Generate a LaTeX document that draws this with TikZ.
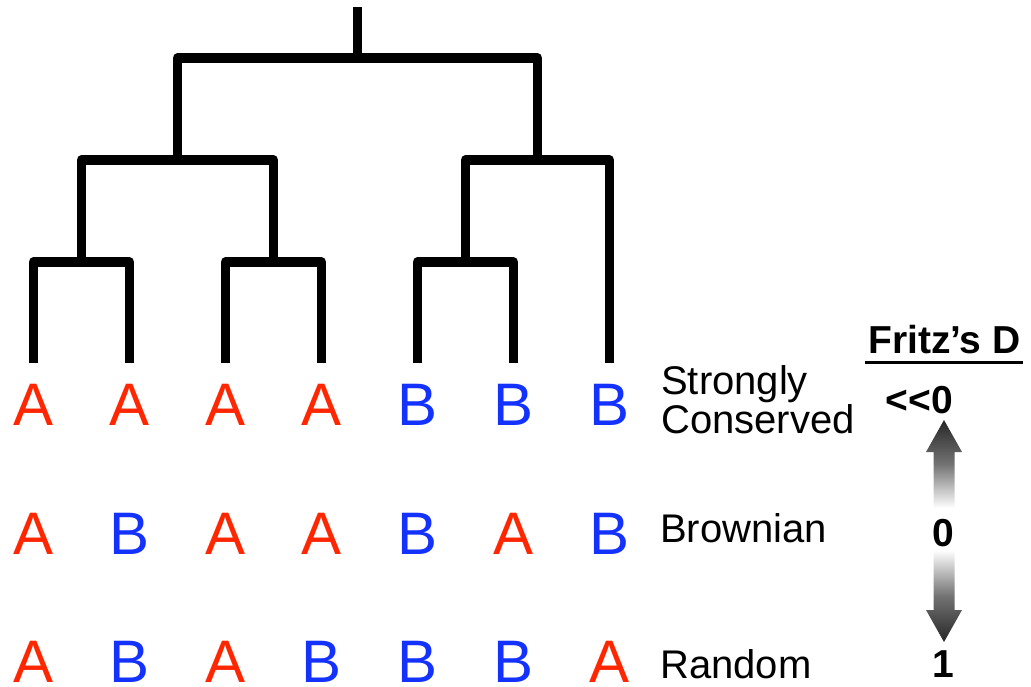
\documentclass[tikz,border=0pt]{standalone}
\usepackage{fontspec}
\setmainfont{Liberation Sans}
\usetikzlibrary{calc}
\definecolor{stateA}{RGB}{255,38,0}
\definecolor{stateB}{RGB}{20,50,255}
\begin{document}
\begin{tikzpicture}[x=1pt,y=-1pt,
  branch/.style={line width=9.5pt, line join=round, line cap=butt},
  taxon/.style={font=\fontsize{60}{60}\selectfont, anchor=base, inner sep=0pt, text depth=0pt},
  model/.style={font=\fontsize{40}{40}\selectfont, anchor=base west, inner sep=0pt},
  dval/.style={font=\fontsize{39}{39}\selectfont\bfseries, inner sep=0pt},
  grad/.style={top color=#1, bottom color=white, middle color=black!55}]
\useasboundingbox (0,0) rectangle (1031,687);

% leaves and internal junctions of the tree
\foreach \i/\x in {1/33.5,2/129.5,3/225.5,4/321.5,5/417.5,6/513.5,7/609.5}
  \coordinate (L\i) at (\x,363);
\coordinate (J12)   at (81.5,262);
\coordinate (J34)   at (273.5,262);
\coordinate (J56)   at (465.5,262);
\coordinate (J1234) at (177.5,160);
\coordinate (J567)  at (537.5,160);
\coordinate (R)     at (357.5,58);
\coordinate (Rtop)  at (357.5,7);

% branches
\draw[branch] (L1) |- (J12) -| (L2);
\draw[branch] (L3) |- (J34) -| (L4);
\draw[branch] (L5) |- (J56) -| (L6);
\draw[branch] (J12) |- (J1234) -| (J34);
\draw[branch] (J56) |- (J567) -| (L7);
\draw[branch] (J1234) |- (R) -| (J567);
\draw[branch] (R) -- (Rtop);

% character states at the tips, one row per model
\foreach \row/\y/\states in {s/425/{A,A,A,A,B,B,B}, b/554/{A,B,A,A,B,A,B}, r/682/{A,B,A,B,B,B,A}}{
  \foreach \s [count=\i] in \states {
    \node[taxon, text=state\s] (\row\i) at (L\i |- 0,\y) {\s};
  }
}

% model names
\node[model] (strong) at (661,394) {Strongly};
\node[model] (cons)   at (661,433) {Conserved};
\node[model] (brown)  at (660,542) {Brownian};
\node[model] (rand)   at (660,678) {Random};

% Fritz's D scale
\node[dval, anchor=base west] (fd) at (868,353) {Fritz’s D};
\draw[line width=3pt] ($(fd.base west)+(-3,9)$) -- ($(fd.base east)+(2,9)$);
\node[dval, anchor=base east] (dlow) at (953,413) {{<}{<}0};
\node[dval, anchor=base] (dzero) at (943,546) {0};
\node[dval, anchor=base] (done)  at (943,677) {1};

% shaded double arrow between the values
\shade[grad=black!85] (944,420) -- (962,452) -- (954.5,452) -- (954.5,508)
  -- (933.5,508) -- (933.5,452) -- (926,452) -- cycle;
\shade[top color=white, bottom color=black!85, middle color=black!55]
  (944,642) -- (962,610) -- (954.5,610) -- (954.5,550)
  -- (933.5,550) -- (933.5,610) -- (926,610) -- cycle;
\end{tikzpicture}
\end{document}
